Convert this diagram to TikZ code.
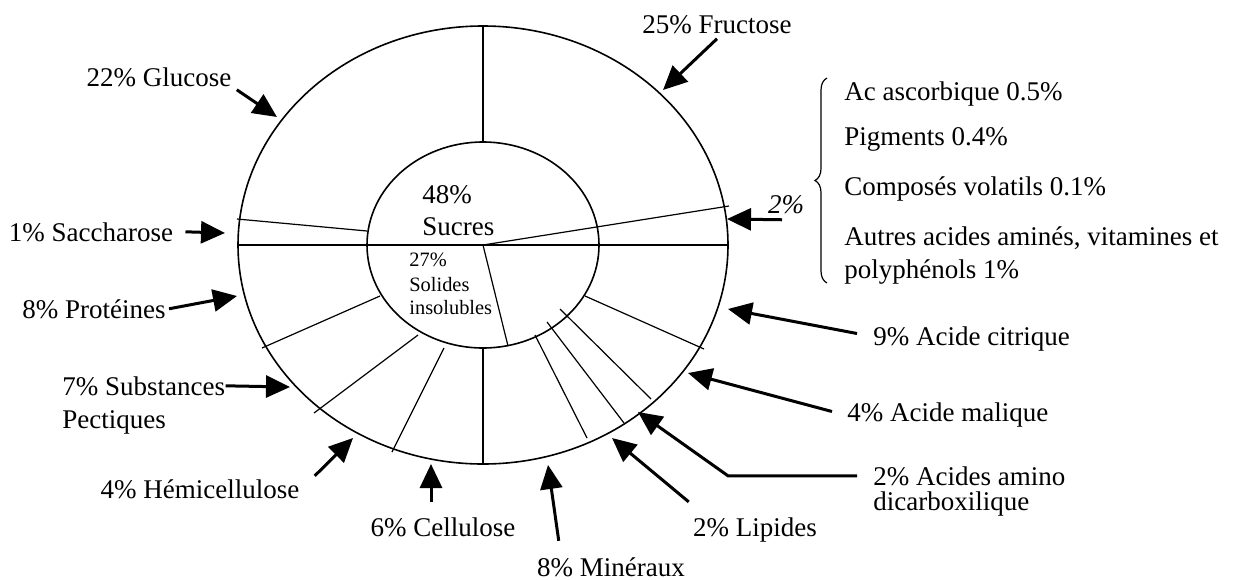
\documentclass[tikz,border=0pt]{standalone}
\usepackage{fontspec}
\setmainfont{Liberation Serif}
\usetikzlibrary{arrows.meta}
\usetikzlibrary{decorations.pathreplacing}
\colorlet{penColor}{black}
\tikzset{
  lbl/.style={penColor, inner sep=0pt, anchor=base, font=\fontsize{13.5}{16.5}\selectfont},
  smallLbl/.style={penColor, inner sep=0pt, anchor=base west, font=\fontsize{10.2}{12}\selectfont},
  pointer/.style={-{Triangle[length=12pt,width=11pt]}, penColor, line width=1.5pt},
  part/.style={penColor, line width=0.6pt},
  rim/.style={penColor, line width=0.8pt}
}
\begin{document}
\begin{tikzpicture}[x=0.5pt,y=-0.5pt]
\useasboundingbox (0,0) rectangle (1237,579);
% the fruit
\draw[rim] (483,245) ellipse [x radius=245, y radius=219];
\draw[rim] (483,245) ellipse [x radius=116, y radius=103];
\draw[part] (483,25) -- (483,142);
\draw[part] (237,245) -- (729,245);
\draw[part] (237,219) -- (367,231);
\draw[part] (483,245) -- (729,206);
\draw[part] (483,245) -- (508,346);
\draw[part] (380,296) -- (262,348);
\draw[part] (418,335) -- (314,413);
\draw[part] (444,348) -- (392,452);
\draw[part] (483,348) -- (483,463);
\draw[part] (535,335) -- (587,438);
\draw[part] (547,322) -- (624,423);
\draw[part] (560,309) -- (651,399);
\draw[part] (585,296) -- (704,349);
% inside
\node[lbl, anchor=base west] (suc1) at (422,203) {48\%};
\node[lbl, anchor=base west] (suc2) at (422,235) {Sucres};
\node[smallLbl] (sol1) at (409,266) {27\%};
\node[smallLbl] (sol2) at (409,291) {Solides};
\node[smallLbl] (sol3) at (409,314) {insolubles};
% labels
\node[lbl] (fru) at (717,33) {25\% Fructose};
\node[lbl] (glu) at (159,86) {22\% Glucose};
\node[lbl] (sac) at (91,241) {1\% Saccharose};
\node[lbl] (pro) at (94,318) {8\% Protéines};
\node[lbl, anchor=base west] (pec) at (62,395) {7\% Substances};
\node[lbl, anchor=base west] (pec2) at (62,428) {Pectiques};
\node[lbl] (hem) at (200,498) {4\% Hémicellulose};
\node[lbl] (cel) at (443,536) {6\% Cellulose};
\node[lbl] (min) at (611,576) {8\% Minéraux};
\node[lbl] (lip) at (755,536) {2\% Lipides};
\node[lbl, anchor=base west] (ami) at (873,485) {2\% Acides amino};
\node[lbl, anchor=base west] (ami2) at (873,510) {dicarboxilique};
\node[lbl, anchor=base west] (mal) at (847,421) {4\% Acide malique};
\node[lbl, anchor=base west] (cit) at (873,345) {9\% Acide citrique};
\node[lbl] (two) at (786,213) {\itshape 2\%};
% the 2%
\node[lbl, anchor=base west] (asc) at (844,100) {Ac ascorbique 0.5\%};
\node[lbl, anchor=base west] (pig) at (844,145) {Pigments 0.4\%};
\node[lbl, anchor=base west] (vol) at (844,195) {Composés volatils 0.1\%};
\node[lbl, anchor=base west] (aut) at (844,245) {Autres acides aminés, vitamines et};
\node[lbl, anchor=base west] (aut2) at (844,278) {polyphénols 1\%};
\draw[penColor, line width=0.6pt, decorate, decoration={brace, amplitude=6pt}] (827,283) -- (827,78);
% arrows
\coordinate (fruTip) at (663,90);
\coordinate (gluTip) at (277,117);
\coordinate (sacTip) at (225,233);
\coordinate (proTip) at (237,296);
\coordinate (pecTip) at (290,387);
\coordinate (hemTip) at (353,438);
\coordinate (celTip) at (431,464);
\coordinate (minTip) at (548,465);
\coordinate (lipTip) at (612,438);
\coordinate (amiTip) at (638,412);
\coordinate (malTip) at (688,373);
\coordinate (citTip) at (728,309);
\coordinate (twoTip) at (727,219);
\draw[pointer] ([yshift=-2.5pt]fru.south) -- (fruTip);
\draw[pointer] ([xshift=2.5pt,yshift=-1.5pt]glu.south east) -- (gluTip);
\draw[pointer] ([xshift=6pt]sac.east) -- (sacTip);
\draw[pointer] ([xshift=1.5pt]pro.east) -- (proTip);
\draw[pointer] (pec.east) -- (pecTip);
\draw[pointer] ([xshift=7.5pt,yshift=1.5pt]hem.north east) -- (hemTip);
\draw[pointer] ([xshift=-6pt,yshift=7.5pt]cel.north) -- (celTip);
\draw[pointer] ([xshift=11pt,yshift=8pt]min.north west) -- (minTip);
\draw[pointer] ([xshift=-2pt,yshift=7.5pt]lip.north west) -- (lipTip);
\draw[pointer] ([xshift=-8pt]ami.west) -- ++(-129,0) -- (amiTip);
\draw[pointer] ([xshift=-7.5pt,yshift=1.5pt]mal.west) -- (malTip);
\draw[pointer] ([xshift=-8pt,yshift=2.5pt]cit.west) -- (citTip);
\draw[pointer] ([xshift=-2pt,yshift=-3pt]two.south) -- (twoTip);
\end{tikzpicture}
\end{document}
